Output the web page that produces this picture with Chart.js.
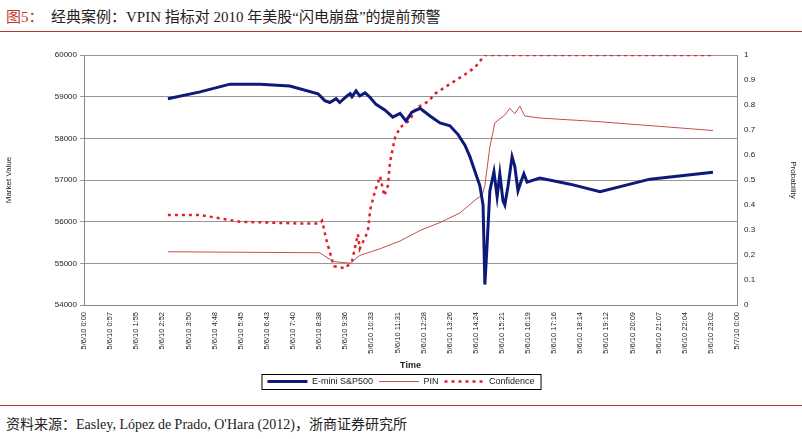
<!DOCTYPE html>
<html><head><meta charset="utf-8">
<script src="https://cdn.jsdelivr.net/npm/chart.js@4"></script>
<style>
body{margin:0;background:#fff;width:802px;height:439px;position:relative;font-family:"Times New Roman","Liberation Serif","Noto Sans CJK SC",serif;}
#title{position:absolute;left:6px;top:5px;font-size:15px;color:#c0392b;}
#title span{color:#222}
.hr{position:absolute;left:0;width:802px;height:1px;background:#b03a2e;}
#src{position:absolute;left:6px;top:413px;font-size:14px;color:#222;}
#wrap{position:absolute;left:0;top:40px;width:802px;height:360px;}
</style></head><body>
<div id="title">图5：&nbsp;&nbsp;<span>经典案例：VPIN 指标对 2010 年美股“闪电崩盘”的提前预警</span></div>
<div class="hr" style="top:31px"></div>
<div id="wrap"><canvas id="c"></canvas></div>
<div class="hr" style="top:405px"></div>
<div id="src">资料来源：Easley, López de Prado, O'Hara (2012)，浙商证券研究所</div>
<script>
const tickLabels = ['5/6/10 0:00','5/6/10 0:57','5/6/10 1:55','5/6/10 2:52','5/6/10 3:50','5/6/10 4:48','5/6/10 5:45','5/6/10 6:43','5/6/10 7:40','5/6/10 8:38','5/6/10 9:36','5/6/10 10:33','5/6/10 11:31','5/6/10 12:28','5/6/10 13:26','5/6/10 14:24','5/6/10 15:21','5/6/10 16:19','5/6/10 17:16','5/6/10 18:14','5/6/10 19:12','5/6/10 20:09','5/6/10 21:07','5/6/10 22:04','5/6/10 23:02','5/7/10 0:00'];

// minutes since midnight
const emTime = [185,256,322,388,454,516,531,542,556,564,578,587,591,600,608,620,631,644,664,681,697,710,723,741,763,785,807,825,840,851,862,873,880,884,889,895,904,911,917,924,928,935,944,950,957,964,970,977,1005,1072,1138,1248,1387];
const emValue = [58950,59115,59300,59300,59255,59070,58905,58860,58950,58860,59000,59070,59000,59140,59020,59090,58980,58815,58675,58510,58600,58420,58630,58720,58535,58370,58300,58090,57835,57560,57210,56860,56400,54490,55460,56740,57200,56600,57150,56500,56400,56850,57560,57330,56740,56970,57150,56950,57045,56900,56720,57020,57185];

const pinTime = [185,520,549,587,608,653,697,741,785,829,862,878,884,895,906,928,939,950,961,972,1005,1138,1387];
const pinValue = [0.213,0.209,0.174,0.167,0.198,0.225,0.256,0.298,0.33,0.368,0.419,0.44,0.477,0.632,0.729,0.76,0.787,0.765,0.795,0.756,0.748,0.733,0.698];

const confTime = [185,256,344,476,520,525,534,551,576,591,604,608,626,631,642,653,662,670,675,686,697,719,732,759,774,807,840,862,884,1000,1387];
const confValue = [0.36,0.36,0.333,0.326,0.326,0.337,0.264,0.155,0.147,0.175,0.283,0.225,0.294,0.38,0.457,0.515,0.437,0.476,0.573,0.67,0.71,0.74,0.787,0.814,0.845,0.884,0.922,0.95,1.0,1.0,1.0];

const pts = (t, v) => t.map((x, i) => ({x: x, y: v[i]}));

const legendBox = {
  id: 'legendBox',
  afterDraw(chart) {
    const hb = chart.legend.legendHitBoxes;
    if (!hb || !hb.length) return;
    const l = Math.min(...hb.map(h => h.left)) - 6;
    const r = Math.max(...hb.map(h => h.left + h.width)) + 6;
    const t = hb[0].top - 3, b = hb[0].top + hb[0].height + 3;
    const ctx = chart.ctx;
    ctx.save(); ctx.strokeStyle = '#000'; ctx.lineWidth = 1;
    ctx.strokeRect(l + 0.5, t + 0.5, r - l, b - t); ctx.restore();
  }
};

new Chart('c', {
  type: 'line',
  data: {
    datasets: [
      {label: 'E-mini S&P500', data: pts(emTime, emValue), yAxisID: 'y', borderColor: '#0d1a7a', borderWidth: 3, pointRadius: 0, tension: 0},
      {label: 'PIN', data: pts(pinTime, pinValue), yAxisID: 'y1', borderColor: '#c0504d', borderWidth: 1, pointRadius: 0, tension: 0},
      {label: 'Confidence', data: pts(confTime, confValue), yAxisID: 'y1', borderColor: '#e0202a', borderWidth: 2.5, borderDash: [3, 4], pointRadius: 0, tension: 0}
    ]
  },
  options: {
    animation: false,
    responsive: true,
    maintainAspectRatio: false,
    layout: {padding: {top: 15, bottom: 4}},
    scales: {
      x: {
        type: 'linear', min: 0, max: 1440,
        afterBuildTicks: s => { s.ticks = tickLabels.map((_, i) => ({value: i * 1440 / 25})); },
        afterFit: s => { s.height = 66; },
        ticks: {autoSkip: false, minRotation: 90, maxRotation: 90, font: {family: 'Arial', size: 7.5}, color: '#222',
          callback: (v, i) => tickLabels[i]},
        grid: {display: false, drawTicks: true, tickLength: 4},
        border: {color: '#888'},
        title: {display: true, text: 'Time', font: {family: 'Arial', size: 9, weight: 'bold'}, color: '#222', padding: 0}
      },
      y: {
        position: 'left', min: 54000, max: 60000,
        afterFit: s => { s.width = 84; },
        ticks: {stepSize: 1000, font: {family: 'Arial', size: 8}, color: '#222', callback: v => String(v)},
        grid: {color: '#999', tickLength: 4},
        border: {color: '#888'},
        title: {display: true, text: 'Market Value', font: {family: 'Arial', size: 8}, color: '#222'}
      },
      y1: {
        position: 'right', min: 0, max: 1,
        afterFit: s => { s.width = 65; },
        ticks: {stepSize: 0.1, font: {family: 'Arial', size: 8}, color: '#222', callback: v => Math.round(v * 10) / 10},
        grid: {display: false, tickLength: 4},
        border: {color: '#888'},
        title: {display: true, text: 'Probability', font: {family: 'Arial', size: 8}, color: '#222'}
      }
    },
    plugins: {
      legend: {
        position: 'bottom',
        labels: {
          font: {family: 'Arial', size: 9}, color: '#222', boxWidth: 40, boxHeight: 8, padding: 6,
          usePointStyle: true, pointStyleWidth: 40,
          generateLabels: chart => chart.data.datasets.map((d, i) => ({
            text: d.label, pointStyle: 'line', strokeStyle: d.borderColor,
            lineWidth: d.borderWidth, lineDash: d.borderDash || [], datasetIndex: i, fontColor: '#222'
          }))
        }
      },
      tooltip: {enabled: false}
    }
  },
  plugins: [legendBox]
});
</script>
</body></html>
